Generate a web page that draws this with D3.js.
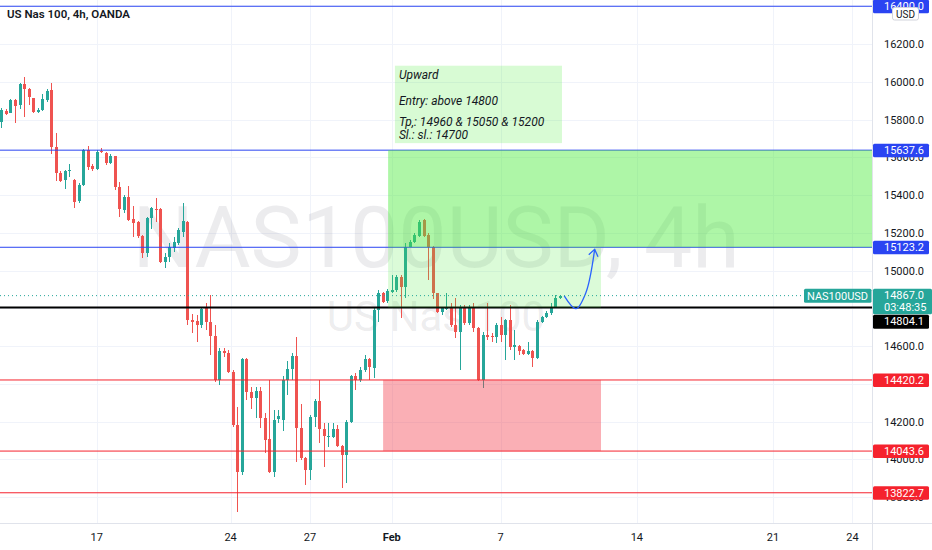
<!DOCTYPE html>
<html>
<head>
<meta charset="utf-8">
<script src="https://cdn.jsdelivr.net/npm/d3@7"></script>
<style>
  html, body { margin: 0; padding: 0; background: #fff; }
  svg { display: block; font-family: Roboto, "Noto Sans", sans-serif; }
</style>
</head>
<body>
<svg id="chart" width="932" height="550"></svg>
<script>
// US Nas 100, 4h candles (bar 0 = left edge)
const opens  = [15788,15845,15836,15903,15877,15988,15963,15912,15838,15850,15903,15956,15653,15515,15479,15530,15479,15370,15453,15638,
                15554,15538,15631,15624,15571,15607,15444,15320,15391,15271,15255,15183,15091,15277,15326,15326,15047,15070,15118,15144,
                15206,15259,14738,14734,14711,14800,14729,14655,14420,14574,14561,14464,14181,13934,14530,14358,14323,14362,14217,14105,
                13934,14212,14208,14420,14477,14547,14164,14005,13943,14225,14310,14159,14121,14120,14159,14070,14023,14199,14441,14420,
                14474,14530,14482,14791,14879,14840,14888,14897,14967,14914,15126,15153,15183,15267,15188,15126,14879,14782,14796,14808,
                14711,14676,14808,14720,14808,14694,14420,14658,14652,14649,14711,14658,14738,14596,14601,14580,14558,14575,14535,14729,
                14755,14777,14808,14853];
const highs  = [15861,15856,15909,15907,15992,16027,15965,15915,15859,15933,15960,15992,15727,15527,15532,15563,15483,15462,15642,15659,
                15564,15638,15647,15628,15616,15608,15470,15400,15448,15342,15264,15188,15282,15335,15386,15330,15091,15147,15176,15223,
                15356,15262,14770,14764,14808,14826,14870,14711,14588,14588,14579,14473,14278,14535,14535,14384,14384,14384,14243,14420,
                14261,14261,14440,14522,14561,14649,14293,14013,14234,14322,14420,14190,14190,14190,14181,14076,14208,14446,14455,14488,
                14552,14535,14801,14897,14888,14900,14976,14976,14976,15147,15161,15197,15267,15271,15197,15129,14882,14808,14879,14826,
                14853,14817,14817,14817,14826,14699,14676,14826,14667,14723,14755,14741,14817,14685,14606,14584,14623,14579,14738,14759,
                14787,14826,14870,14870];
const lows   = [15755,15822,15833,15783,15854,15815,15877,15836,15836,15847,15894,15617,15476,15470,15432,15497,15330,15356,15448,15532,
                15529,15532,15624,15559,15564,15426,15285,15306,15264,15179,15171,15065,15071,15218,15259,15038,15012,15047,15100,15135,
                15179,14711,14667,14623,14694,14685,14552,14411,14393,14543,14455,14172,13722,13916,14314,14269,14217,14164,14031,13925,
                13908,14191,14150,14341,14420,13987,13996,13864,13890,14172,14088,13961,14066,14111,14066,13846,13872,14190,14367,14411,
                14465,14420,14431,14729,14829,14826,14882,14888,14747,14853,15123,15148,15179,15179,14950,14849,14773,14764,14791,14702,
                14641,14473,14711,14712,14676,14415,14376,14632,14623,14614,14623,14526,14579,14526,14552,14550,14552,14487,14530,14723,
                14747,14764,14805,14849];
const closes = [15850,15830,15903,15871,15988,15960,15918,15840,15850,15909,15953,15653,15515,15476,15527,15533,15365,15453,15638,15550,
                15538,15629,15628,15568,15607,15444,15324,15389,15267,15253,15183,15091,15277,15330,15318,15047,15073,15123,15151,15214,
                15264,14738,14729,14711,14796,14729,14655,14420,14574,14561,14464,14181,13934,14530,14358,14323,14362,14217,14102,13934,
                14208,14229,14420,14477,14547,14164,14005,13943,14225,14310,14159,14123,14123,14159,14070,14023,14199,14441,14420,14474,
                14530,14490,14791,14879,14835,14893,14897,14967,14914,15126,15153,15188,15259,15183,15126,14879,14782,14801,14808,14711,
                14676,14808,14720,14808,14694,14420,14658,14646,14646,14711,14658,14738,14596,14606,14575,14558,14575,14535,14729,14755,
                14777,14808,14853,14867];

// time axis labels and the bar index they sit on
const timeLabels = ["17", "24", "27", "Feb", "7", "14", "21", "24"];
const timeBars   = [21, 50.5, 68, 86, 110, 140, 170, 187.5];

// price axis: grid every 200, labels hidden where a tag covers them
const priceTicks  = [13800, 14000, 14200, 14400, 14600, 14800, 15000, 15200, 15400, 15600, 15800, 16000, 16200, 16400];
const priceLabels = [13800, 14000, 14200, 14600, 15000, 15200, 15400, 15600, 15800, 16000, 16200];

// drawn levels
const blueLevels = [16400.0, 15637.6, 15123.2];
const redLevels  = [14420.2, 14043.6, 13822.7];
const entryLevel = 14804.1;
const lastPrice  = 14867.0;
const countdown  = "03:48:35";

// long setup drawings (bar index / price)
const targetZone = [85.2, 191.8, 15637.6, 15123.2];
const entryZone  = [85.2, 132.1, 15123.2, 14804.1];
const stopZone   = [84.1, 132.1, 14420.2, 14043.6];
const noteBox    = [86.7, 123.5, 16085, 15675];
const noteLines  = ["Upward", "Entry: above 14800", "Tp,: 14960 & 15050 & 15200", "Sl.: sl.: 14700"];
const noteOffset = [13, 39, 60, 73];
const arrowPath  = [[124.0, 14866], [126.6, 14798], [128.8, 14885], [130.7, 15112]];

// ---- layout
const paneW = 872, paneH = 523, W = 932, H = 550;
const UP = "#26a69a", DOWN = "#ef5350";
const BLUE = "#2a44f2", RED = "#f5222d", TEXT = "#131722";

const svg = d3.select("#chart");
const x = d3.scaleLinear().domain([-0.3, 191.8]).range([0, paneW]);
const y = d3.scaleLinear().domain([14000, 16200]).range([459.3, 44]);

svg.append("defs").append("clipPath").attr("id", "pane")
  .append("rect").attr("width", paneW).attr("height", paneH);
const pane = svg.append("g").attr("clip-path", "url(#pane)");

// grid
pane.append("g").attr("shape-rendering", "crispEdges").selectAll("line")
  .data(priceTicks).join("line")
  .attr("x1", 0).attr("x2", paneW)
  .attr("y1", d => Math.round(y(d)) + 0.5).attr("y2", d => Math.round(y(d)) + 0.5)
  .attr("stroke", "#f0f3fa");
pane.append("g").attr("shape-rendering", "crispEdges").selectAll("line")
  .data(timeBars).join("line")
  .attr("x1", d => Math.round(x(d)) + 0.5).attr("x2", d => Math.round(x(d)) + 0.5)
  .attr("y1", 0).attr("y2", paneH)
  .attr("stroke", "#f0f3fa");

// watermark
pane.append("text").attr("x", paneW / 2).attr("y", 267).attr("text-anchor", "middle")
  .attr("font-size", 86).attr("fill", "rgba(120,123,134,0.14)").text("NAS100USD, 4h");
pane.append("text").attr("x", paneW / 2).attr("y", 331).attr("text-anchor", "middle")
  .attr("font-size", 42).attr("fill", "rgba(120,123,134,0.14)").text("US Nas 100");

// candles
const bars = opens.map((o, i) => ({ i, o, h: highs[i], l: lows[i], c: closes[i] }));
const cg = pane.append("g").attr("shape-rendering", "crispEdges");
cg.selectAll("line").data(bars).join("line")
  .attr("x1", d => Math.round(x(d.i)) + 0.5).attr("x2", d => Math.round(x(d.i)) + 0.5)
  .attr("y1", d => y(d.h)).attr("y2", d => y(d.l))
  .attr("stroke", d => d.c >= d.o ? UP : DOWN);
cg.selectAll("rect").data(bars).join("rect")
  .attr("x", d => Math.round(x(d.i)) - 1).attr("width", 3)
  .attr("y", d => y(Math.max(d.o, d.c)))
  .attr("height", d => Math.max(1, Math.abs(y(d.o) - y(d.c))))
  .attr("fill", d => d.c >= d.o ? UP : DOWN);

// horizontal levels
const lg = pane.append("g");
blueLevels.forEach(v => lg.append("line").attr("x1", 0).attr("x2", paneW)
  .attr("y1", y(v)).attr("y2", y(v)).attr("stroke", BLUE).attr("stroke-width", 1));
redLevels.forEach(v => lg.append("line").attr("x1", 0).attr("x2", paneW)
  .attr("y1", y(v)).attr("y2", y(v)).attr("stroke", RED).attr("stroke-width", 1));
lg.append("line").attr("x1", 0).attr("x2", paneW)
  .attr("y1", y(entryLevel)).attr("y2", y(entryLevel)).attr("stroke", "#000").attr("stroke-width", 1.8);

// zones
function zone(z, fill) {
  pane.append("rect")
    .attr("x", x(z[0])).attr("width", x(z[1]) - x(z[0]))
    .attr("y", y(z[2])).attr("height", y(z[3]) - y(z[2]))
    .attr("fill", fill);
}
zone(targetZone, "rgba(76,235,60,0.45)");
zone(entryZone, "rgba(76,235,60,0.2)");
zone(stopZone, "rgba(242,54,69,0.4)");
zone(noteBox, "rgba(76,235,60,0.22)");

pane.append("g").attr("font-size", 12).attr("font-style", "italic").attr("fill", TEXT)
  .selectAll("text").data(noteLines).join("text")
  .attr("x", x(noteBox[0]) + 4)
  .attr("y", (d, i) => y(noteBox[2]) + noteOffset[i])
  .text(d => d);

// arrow
const ap = arrowPath.map(p => [x(p[0]), y(p[1])]);
pane.append("path")
  .attr("d", d3.line().curve(d3.curveCatmullRom)(ap))
  .attr("fill", "none").attr("stroke", "#2962ff").attr("stroke-width", 1.3);
{
  const tip = ap[ap.length - 1], prev = ap[ap.length - 2];
  const ang = Math.atan2(tip[1] - prev[1], tip[0] - prev[0]);
  const len = 8, spread = Math.PI / 5;
  const head = [
    [tip[0] - len * Math.cos(ang - spread), tip[1] - len * Math.sin(ang - spread)],
    tip,
    [tip[0] - len * Math.cos(ang + spread), tip[1] - len * Math.sin(ang + spread)]
  ];
  pane.append("path").attr("d", d3.line()(head))
    .attr("fill", "none").attr("stroke", "#2962ff").attr("stroke-width", 1.3);
}

// last price dotted line
pane.append("line").attr("x1", 0).attr("x2", paneW)
  .attr("y1", y(lastPrice)).attr("y2", y(lastPrice))
  .attr("stroke", UP).attr("stroke-width", 1).attr("stroke-dasharray", "1,3");

// ---- axes
svg.append("g").attr("shape-rendering", "crispEdges")
  .call(g => g.append("line").attr("x1", paneW + 0.5).attr("x2", paneW + 0.5).attr("y1", 0).attr("y2", H).attr("stroke", "#e0e3eb"))
  .call(g => g.append("line").attr("x1", 0).attr("x2", W).attr("y1", paneH + 0.5).attr("y2", paneH + 0.5).attr("stroke", "#e0e3eb"));

svg.append("g").attr("font-size", 11).attr("fill", TEXT)
  .selectAll("text").data(priceLabels).join("text")
  .attr("x", 884).attr("y", d => y(d) + 4).text(d => d.toFixed(1));

svg.append("g").attr("font-size", 11).attr("fill", TEXT).attr("text-anchor", "middle")
  .selectAll("text").data(timeLabels).join("text")
  .attr("x", (d, i) => x(timeBars[i])).attr("y", 541)
  .attr("font-weight", d => d === "Feb" ? 700 : 400)
  .text(d => d);

// price tags
function tag(top, h, fill, lines) {
  const g = svg.append("g");
  g.append("rect").attr("x", paneW + 1).attr("y", top).attr("width", 56).attr("height", h)
    .attr("rx", 1.5).attr("fill", fill);
  lines.forEach((t, i) => g.append("text").attr("x", 884).attr("y", top + 10.5 + i * 12)
    .attr("font-size", 11).attr("fill", "#fff").text(t));
}
blueLevels.forEach(v => tag(y(v) - 6.5, 13.5, BLUE, [v.toFixed(1)]));
redLevels.forEach(v => tag(y(v) - 6.5, 13.5, RED, [v.toFixed(1)]));
const curTop = y(lastPrice) - 7;
svg.append("rect").attr("x", paneW + 1).attr("y", curTop).attr("width", W - paneW - 1).attr("height", 25.5)
  .attr("rx", 1.5).attr("fill", UP);
[lastPrice.toFixed(1), countdown].forEach((t, i) => svg.append("text")
  .attr("x", 884).attr("y", curTop + 10.5 + i * 12).attr("font-size", 11).attr("fill", "#fff").text(t));
tag(Math.max(y(entryLevel) - 6.5, curTop + 26), 14, "#000", [entryLevel.toFixed(1)]);

// symbol tag left of the axis
svg.append("rect").attr("x", 804).attr("y", curTop).attr("width", 67.5).attr("height", 14)
  .attr("rx", 1.5).attr("fill", UP);
svg.append("text").attr("x", 837.5).attr("y", curTop + 11).attr("text-anchor", "middle")
  .attr("font-size", 11).attr("fill", "#fff").text("NAS100USD");

// currency badge
svg.append("rect").attr("x", 892.5).attr("y", 7.5).attr("width", 26).attr("height", 12.5)
  .attr("rx", 2).attr("fill", "#fff").attr("stroke", "#d1d4dc");
svg.append("text").attr("x", 905.5).attr("y", 17.5).attr("text-anchor", "middle")
  .attr("font-size", 10).attr("fill", TEXT).text("USD");

// title
svg.append("text").attr("x", 7).attr("y", 18).attr("font-size", 11.5).attr("font-weight", 600)
  .attr("fill", TEXT).text("US Nas 100, 4h, OANDA");
</script>
</body>
</html>
